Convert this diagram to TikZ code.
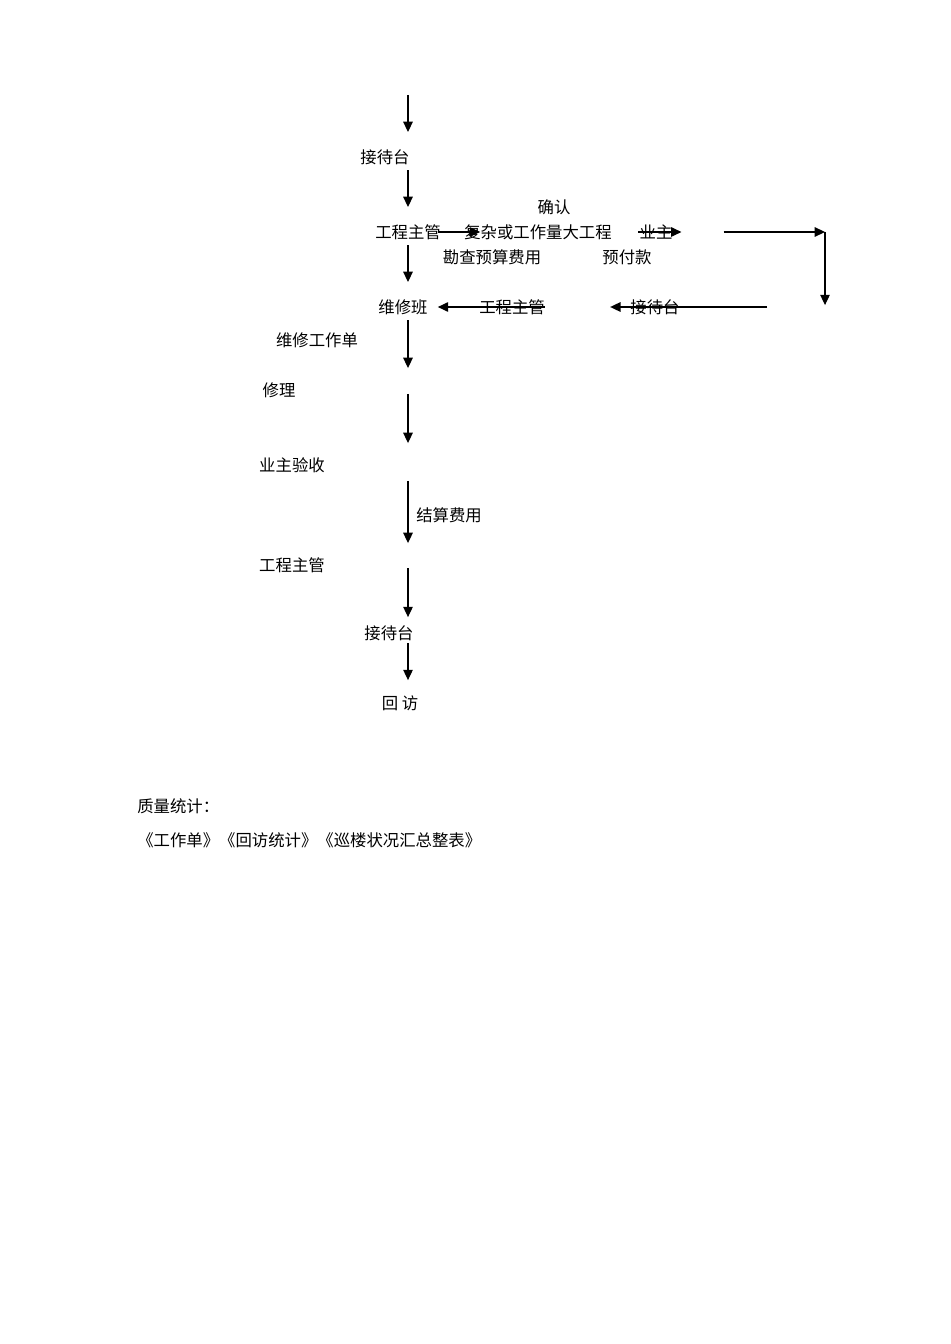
\documentclass[tikz,border=0pt]{standalone}
\usepackage{fontspec}
\newfontfamily\cjk{Noto Sans CJK SC}
\usetikzlibrary{arrows.meta}

\begin{document}
\begin{tikzpicture}[x=0.6266bp, y=-0.6266bp,
    every node/.style={font=\cjk\fontsize{10.3}{12}\selectfont, inner sep=0pt},
    arr/.style={line width=0.75pt, -{Triangle[length=6.5pt,width=6pt]}}]
    \useasboundingbox (0,0) rectangle (950,1344);

    % First, locate each of the nodes and name them
        \coordinate (top) at (408,95);
        \node (desk) at (385,157) {接待台};
        \node (confirm) at (554,207) {确认};
        \node (chief) at (408,232) {工程主管};
        \node (big) at (538,232) {复杂或工作量大工程};
        \node (owner) at (656,232) {业主};
        \node (survey) at (492,257) {勘查预算费用};
        \node (prepay) at (627,257) {预付款};
        \coordinate (ne) at (825,232);
        \coordinate (se) at (825,307);
        \node (team) at (403,307) {维修班};
        \node (chiefb) at (512,307) {工程主管};
        \node (deskb) at (655,307) {接待台};
        \node (order) at (317,340) {维修工作单};
        \node (repair) at (279,390) {修理};
        \node (accept) at (292,465) {业主验收};
        \node (settle) at (449,515) {结算费用};
        \node (chiefc) at (292,565) {工程主管};
        \node (deskc) at (389,633) {接待台};
        \node (revisit) at (400,703) {回 访};
        \node[anchor=west] (stats) at (137,806) {质量统计：};
        \node[anchor=west] (forms) at (137,840) {《工作单》《回访统计》《巡楼状况汇总整表》};

    % Now draw the arrows:
        \draw [arr, shorten >=15.7pt] (top) -- (desk.center -| top);
        \draw [arr, shorten <=8.2pt, shorten >=15.7pt] (desk.center -| chief) -- (chief.center);
        \draw [arr, shorten <=8.2pt, shorten >=15.7pt] (chief.center) -- (team.center -| chief);
        \draw [arr, shorten <=8.2pt, shorten >=13.8pt] (team.center -| chief) -- (repair.center -| chief);
        \draw [arr, shorten <=2.5pt, shorten >=13.8pt] (repair.center -| chief) -- (accept.center -| chief);
        \draw [arr, shorten <=10pt, shorten >=13.8pt] (accept.center -| chief) -- (chiefc.center -| chief);
        \draw [arr, shorten <=1.9pt, shorten >=10pt] (chiefc.center -| chief) -- (deskc.center -| chief);
        \draw [arr, shorten <=6.3pt, shorten >=14.4pt] (deskc.center -| chief) -- (revisit.center -| chief);
        \draw [arr, shorten <=18.8pt, shorten >=36.4pt] (chief.center) -- (big.center);
        \draw [arr, shorten <=-11.3pt, shorten >=90.3pt] (owner.center) -- (ne);
        \draw [arr, shorten <=42.6pt] (owner.center) -- (ne);
        \draw [arr, shorten >=1.2pt] (ne) -- (se);
        \draw [arr, shorten <=36.4pt, shorten >=-28.2pt] (se) -- (deskb.center);
        \draw [arr, shorten <=-20.7pt, shorten >=21.9pt] (chiefb.center) -- (team.center);
\end{tikzpicture}
\end{document}
